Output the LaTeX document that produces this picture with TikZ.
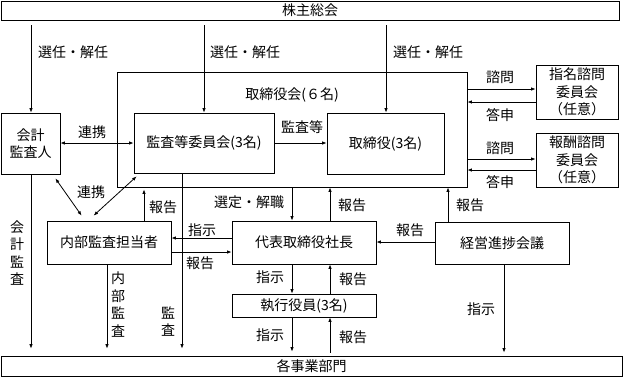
\documentclass[tikz,border=0pt]{standalone}
\usepackage{fontspec}
\setmainfont{Noto Sans CJK JP}
\usetikzlibrary{arrows.meta}
\newcommand\dfont{\fontsize{14}{17.5}\selectfont}
\begin{document}
\begin{tikzpicture}[x=1pt,y=-1pt,
  box/.style={draw, line width=0.8pt, inner sep=0pt, align=center, font=\dfont},
  lbl/.style={inner sep=0pt, align=center, font=\dfont},
  arr/.style={-{Latex[length=4.5pt,width=3.5pt]}, line width=0.8pt},
  darr/.style={{Latex[length=4.5pt,width=3.5pt]}-{Latex[length=4.5pt,width=3.5pt]}, line width=0.8pt}]
\useasboundingbox (0,0) rectangle (623,378);
% guides
\coordinate (x31) at (31,0);
\coordinate (x107) at (107,0);
\coordinate (x144) at (144,0);
\coordinate (x182) at (182,0);
\coordinate (x204) at (204,0);
\coordinate (x292) at (292,0);
\coordinate (x330) at (330,0);
\coordinate (x386) at (386,0);
\coordinate (x448) at (448,0);
\coordinate (x504) at (504,0);
\coordinate (y89) at (0,89);
\coordinate (y102) at (0,102);
\coordinate (y143) at (0,143);
\coordinate (y159) at (0,159);
\coordinate (y170) at (0,170);
\coordinate (y238) at (0,238);
\coordinate (y242) at (0,242);
\coordinate (y252) at (0,252);
% boxes
\node[box, minimum width=618, minimum height=19] (top) at (310,10.5) {株主総会};
\node[box, minimum width=621, minimum height=20] (bottom) at (311.5,366) {各事業部門};
\node[box, minimum width=350, minimum height=115] (torikai) at (292,129.5) {};
\node[lbl] (torilabel) at (292,95) {取締役会(６名)};
\node[box, minimum width=59, minimum height=61] (kaikei) at (30.5,143.5) {会計\\監査人};
\node[box, minimum width=140, minimum height=60] (kansa) at (204,143) {監査等委員会(3名)};
\node[box, minimum width=117, minimum height=61] (tori) at (385.5,143.5) {取締役(3名)};
\node[box, minimum width=82, minimum height=54] (shimei) at (577,92) {指名諮問\\委員会\\（任意）};
\node[box, minimum width=82, minimum height=54] (hoshu) at (577,160) {報酬諮問\\委員会\\（任意）};
\node[box, minimum width=124, minimum height=43] (naibu) at (109,242.5) {内部監査担当者};
\node[box, minimum width=144, minimum height=43] (daihyo) at (304,242.5) {代表取締役社長};
\node[box, minimum width=134, minimum height=42] (keiei) at (502,243) {経営進捗会議};
\node[box, minimum width=144, minimum height=23] (shikko) at (304,305.5) {執行役員(3名)};
% connectors
\draw[arr, shorten <=5pt] (top.south -| x31) -- (kaikei.north -| x31);
\draw[arr, shorten <=5pt] (top.south -| x204) -- (kansa.north -| x204);
\draw[arr, shorten <=5pt] (top.south -| x386) -- (tori.north -| x386);
\draw[darr] (kaikei.east |- y143) -- (kansa.west |- y143);
\draw[arr] (kansa.east |- y143) -- (tori.west |- y143);
\draw[arr] (torikai.east |- y89) -- (shimei.west |- y89);
\draw[arr] (shimei.west |- y102) -- (torikai.east |- y102);
\draw[arr] (torikai.east |- y159) -- (hoshu.west |- y159);
\draw[arr] (hoshu.west |- y170) -- (torikai.east |- y170);
\draw[darr] ([shift={(-5,4)}]kaikei.south east) -- ([shift={(35,-5)}]naibu.north west);
\draw[darr] ([shift={(3,3)}]kansa.south west) -- ([shift={(47,-5)}]naibu.north west);
\draw[arr, shorten >=2pt] (naibu.north -| x144) -- (torikai.south -| x144);
\draw[arr, shorten >=7pt] (kansa.south -| x182) -- (bottom.north -| x182);
\draw[arr, shorten >=7pt] (kaikei.south -| x31) -- (bottom.north -| x31);
\draw[arr, shorten >=7pt] (naibu.south -| x107) -- (bottom.north -| x107);
\draw[arr] (torikai.south -| x292) -- (daihyo.north -| x292);
\draw[arr] (daihyo.north -| x330) -- (torikai.south -| x330);
\draw[arr] (keiei.north -| x448) -- (torikai.south -| x448);
\draw[arr] (daihyo.west |- y238) -- (naibu.east |- y238);
\draw[arr] (naibu.east |- y252) -- (daihyo.west |- y252);
\draw[arr] (keiei.west |- y242) -- (daihyo.east |- y242);
\draw[arr, shorten >=3pt] (keiei.south -| x504) -- (bottom.north -| x504);
\draw[arr] (daihyo.south -| x292) -- (shikko.north -| x292);
\draw[arr] (shikko.north -| x330) -- (daihyo.south -| x330);
\draw[arr, shorten >=4pt] (shikko.south -| x292) -- (bottom.north -| x292);
\draw[arr, shorten <=3pt] (bottom.north -| x330) -- (shikko.south -| x330);
% labels
\node[lbl, anchor=west] (l1) at (38,52) {選任・解任};
\node[lbl, anchor=west] (l2) at (210,52) {選任・解任};
\node[lbl, anchor=west] (l3) at (393,52) {選任・解任};
\node[lbl] (l4) at (92,132) {連携};
\node[lbl] (l5) at (302,127) {監査等};
\node[lbl] (l6) at (500,77) {諮問};
\node[lbl] (l7) at (500,115) {答申};
\node[lbl] (l8) at (500,148) {諮問};
\node[lbl] (l9) at (500,182) {答申};
\node[lbl] (l10) at (91,192) {連携};
\node[lbl] (l11) at (163,207) {報告};
\node[lbl] (l12) at (249,202) {選定・解職};
\node[lbl] (l13) at (352,205) {報告};
\node[lbl] (l14) at (470,205) {報告};
\node[lbl] (l15) at (202,230) {指示};
\node[lbl] (l16) at (200,263) {報告};
\node[lbl] (l17) at (410,230) {報告};
\node[lbl] (l18) at (270,277) {指示};
\node[lbl] (l19) at (353,279) {報告};
\node[lbl] (l20) at (270,335) {指示};
\node[lbl] (l21) at (353,337) {報告};
\node[lbl] (l22) at (481,309) {指示};
\node[lbl] (l23) at (17,253) {会\\計\\監\\査};
\node[lbl] (l24) at (118,304.5) {内\\部\\監\\査};
\node[lbl] (l25) at (168,321.5) {監\\査};
\end{tikzpicture}
\end{document}
